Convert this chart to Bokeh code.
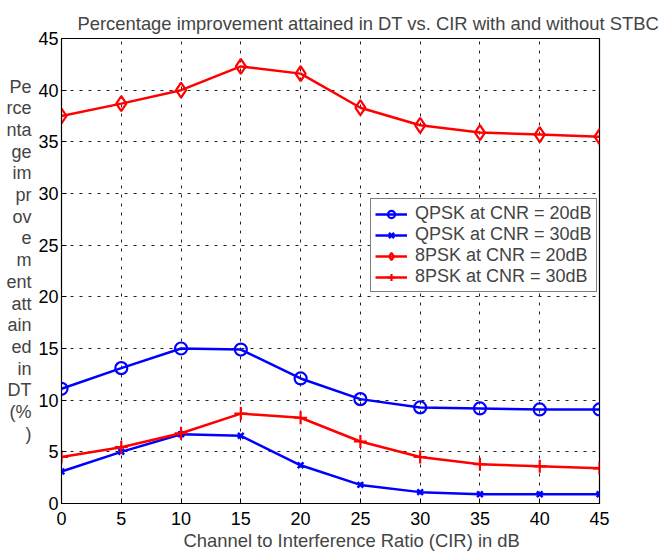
from bokeh.plotting import figure
from bokeh.models import Range1d, LinearAxis, Legend, LegendItem, FixedTicker, Title
from bokeh.embed import file_html
from bokeh.resources import INLINE

cir = [0, 5, 10, 15, 20, 25, 30, 35, 40, 45]
qpsk_20 = [11.1, 13.1, 15.0, 14.9, 12.1, 10.1, 9.3, 9.2, 9.1, 9.1]
qpsk_30 = [3.1, 5.0, 6.7, 6.55, 3.7, 1.8, 1.1, 0.9, 0.9, 0.9]
psk8_20 = [37.5, 38.7, 40.0, 42.3, 41.6, 38.3, 36.6, 35.9, 35.7, 35.5]
psk8_30 = [4.5, 5.45, 6.8, 8.7, 8.3, 6.0, 4.5, 3.8, 3.6, 3.4]
ticks = [0, 5, 10, 15, 20, 25, 30, 35, 40, 45]
names = ["QPSK at CNR = 20dB", "QPSK at CNR = 30dB", "8PSK at CNR = 20dB", "8PSK at CNR = 30dB"]
title_text = "Percentage improvement attained in DT vs. CIR with and without STBC"
xlabel = "Channel to Interference Ratio (CIR) in dB"
ylabel_lines = ["Pe", "rce", "nta", "ge", "im", "pr", "ov", "e", "m", "ent", "att", "ain", "ed", "in", "DT", "(%", ")"]

FONT = "Liberation Sans"

p = figure(width=661, height=552, output_backend="svg", toolbar_location=None,
           x_range=Range1d(0, 45), y_range=Range1d(0, 45),
           min_border_left=61, min_border_right=62, min_border_top=38, min_border_bottom=49,
           x_axis_location=None, y_axis_location=None)

p.title.text = title_text
p.title.text_font = FONT
p.title.text_font_size = "18.4px"
p.title.text_font_style = "normal"
p.title.align = "left"
p.title.offset = 16
p.title.standoff = 10

p.outline_line_color = "black"
p.outline_line_width = 1.2
p.background_fill_color = "white"
p.border_fill_color = "white"

def mk_axis():
    ax = LinearAxis(ticker=FixedTicker(ticks=ticks))
    ax.major_tick_in = 5
    ax.major_tick_out = 0
    ax.minor_tick_in = 0
    ax.minor_tick_out = 0
    ax.axis_line_color = "black"
    ax.major_tick_line_color = "black"
    ax.major_label_text_font = FONT
    ax.major_label_text_font_size = "18px"
    ax.major_label_text_color = "black"
    return ax

xb = mk_axis()
xb.major_label_standoff = 8
p.add_layout(xb, "below")

xtitle = Title(text=xlabel, align="left", offset=122, text_font=FONT,
               text_font_size="18.4px", text_font_style="normal", standoff=0)
p.add_layout(xtitle, "below")

yl = mk_axis()
yl.major_label_standoff = 3
yl.axis_label = "\n".join(ylabel_lines) + "\n "
yl.axis_label_orientation = "horizontal"
yl.axis_label_text_font = FONT
yl.axis_label_text_font_size = "18px"
yl.axis_label_text_font_style = "normal"
yl.axis_label_text_line_height = 1.085
yl.axis_label_text_align = "left"
yl.axis_label_standoff = 4
p.add_layout(yl, "left")

for g in (p.xgrid, p.ygrid):
    g.ticker = FixedTicker(ticks=ticks)
    g.grid_line_color = "#222222"
    g.grid_line_dash = "3 6"
    g.grid_line_width = 1

r1 = p.line(cir, qpsk_20, line_color="blue", line_width=2.5)
m1 = p.scatter(cir, qpsk_20, marker="circle", size=12, line_color="blue", line_width=2.2, fill_color=None)
r2 = p.line(cir, qpsk_30, line_color="blue", line_width=2.5)
m2 = p.scatter(cir, qpsk_30, marker="x", size=8, line_color="blue", line_width=2.5)
r3 = p.line(cir, psk8_20, line_color="red", line_width=2.5)
m3 = p.scatter(cir, psk8_20, marker="diamond", size=15, line_color="red", line_width=2.2, fill_color=None)
r4 = p.line(cir, psk8_30, line_color="red", line_width=2.5)
m4 = p.scatter(cir, psk8_30, marker="cross", size=13, line_color="red", line_width=2.2)

legend = Legend(items=[LegendItem(label=names[0], renderers=[r1, m1]),
                       LegendItem(label=names[1], renderers=[r2, m2]),
                       LegendItem(label=names[2], renderers=[r3, m3]),
                       LegendItem(label=names[3], renderers=[r4, m4])],
                location=(309, 211))
legend.label_text_font = FONT
legend.label_text_font_size = "18px"
legend.label_height = 18
legend.glyph_height = 18
legend.glyph_width = 32
legend.label_standoff = 8
legend.spacing = 0
legend.padding = 4
legend.margin = 0
legend.border_line_color = "black"
legend.border_line_width = 1.2
legend.background_fill_alpha = 1
p.add_layout(legend, "center")

open("out.html", "w").write(file_html(p, INLINE))
